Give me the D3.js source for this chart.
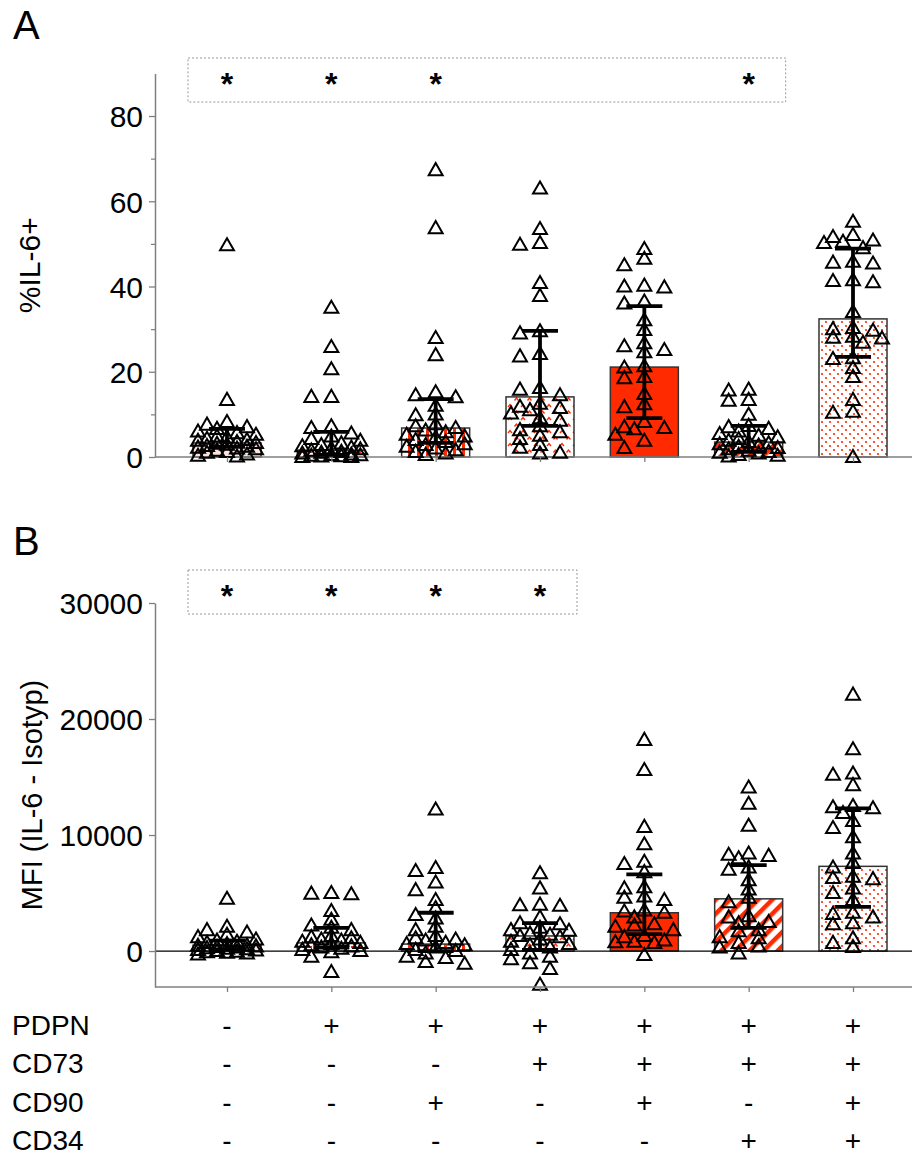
<!DOCTYPE html>
<html>
<head>
<meta charset="utf-8">
<script src="https://cdn.jsdelivr.net/npm/d3@7"></script>
<style>
  body { margin: 0; background: #fff; }
  svg { display: block; font-family: "Liberation Sans", Arial, sans-serif; }
</style>
</head>
<body>
<div id="chart"></div>
<script>
// groups + marker table
var groups = ["g1", "g2", "g3", "g4", "g5", "g6", "g7"];
var rowNames = ["PDPN", "CD73", "CD90", "CD34"];
var pdpn = ["-", "+", "+", "+", "+", "+", "+"];
var cd73 = ["-", "-", "-", "+", "+", "+", "+"];
var cd90 = ["-", "-", "+", "-", "+", "-", "+"];
var cd34 = ["-", "-", "-", "-", "-", "+", "+"];

// panel A: %IL-6+
var ticksA = [0, 20, 40, 60, 80];
var minorA = [10, 30, 50, 70];
var medA = [3.3, 1.6, 6.8, 14.1, 21.1, 3.5, 32.4];
var loA = [2.4, 0.5, 3.3, 7.3, 9.1, 1.2, 23.5];
var hiA = [6.6, 5.9, 13.6, 29.6, 35.4, 7.3, 48.9];
var sigA = ["*", "*", "*", "", "", "*", ""];
var ptsA = [
  [49.7, 13.4, 8.2, 7.6, 7.0, 6.6, 6.0, 5.6, 5.2, 4.8, 4.6, 4.3, 4.0, 3.8, 3.5, 3.3, 3.1, 2.9, 2.6, 2.4, 2.2, 2.0, 1.8, 1.5, 1.2, 1.0, 0.6, 0.3, 0.1],
  [35, 25.8, 20.6, 14.1, 14.1, 7.2, 6.8, 5.5, 4.8, 4.2, 3.8, 3.2, 2.8, 2.5, 2.2, 2.0, 1.8, 1.5, 1.2, 1.0, 0.8, 0.6, 0.4, 0.3, 0.2, 0.1, 0.0, 0.0, 0.5],
  [67.3, 53.7, 27.9, 23.9, 15.2, 14.5, 14.0, 12.0, 10.0, 9.8, 7.7, 7.2, 6.8, 6.2, 5.8, 5.2, 4.8, 4.5, 4.0, 3.5, 3.0, 2.8, 2.4, 2.0, 1.6, 1.2, 0.8, 0.5],
  [63, 53.5, 50.2, 49.8, 40.8, 37.8, 29.5, 29.0, 24.2, 23.6, 16.2, 15.8, 14.5, 12.5, 11.8, 11.5, 11.0, 10.2, 9.1, 8.5, 7.2, 6.3, 5.8, 5.0, 4.2, 2.8, 2.2, 1.0, 0.8],
  [48.8, 46.5, 45.0, 40.2, 40.0, 39.8, 36.5, 36.0, 32.1, 29.8, 26.7, 26.0, 25.1, 24.6, 21.3, 21.0, 18.8, 18.5, 14.8, 12.4, 11.7, 8.2, 7.0, 6.8, 6.5, 5.2, 3.8, 2.1],
  [15.8, 15.6, 13.4, 13.2, 9.9, 7.3, 7.0, 6.6, 6.0, 5.4, 5.0, 4.6, 4.2, 3.8, 3.5, 3.2, 3.0, 2.7, 2.4, 2.1, 1.8, 1.5, 1.2, 1.0, 0.8, 0.5, 0.3, 0.1],
  [55.2, 52.1, 51.6, 50.8, 50.5, 50.2, 49.0, 45.8, 45.6, 45.4, 41.5, 41.3, 41.0, 34.0, 30.3, 30.0, 29.6, 28.2, 28.0, 27.8, 26.8, 23.2, 23.0, 20.9, 18.8, 13.4, 10.6, 10.4, 0.0]
];

// panel B: MFI
var ticksB = [0, 10000, 20000, 30000];
var medB = [500, 700, 600, 1300, 3300, 4500, 7300];
var loB = [150, 300, 0, 100, 1450, 2000, 3800];
var hiB = [900, 2000, 3300, 2400, 6600, 7400, 12300];
var sigB = ["*", "*", "*", "*", "", "", ""];
var ptsB = [
  [4500, 2100, 1800, 1600, 1400, 1200, 1000, 900, 800, 700, 600, 500, 450, 400, 350, 300, 250, 200, 150, 100, 50, 0, -50, -100, -150, -200, -300],
  [5000, 4950, 4900, 3450, 2700, 2200, 2000, 1800, 1300, 1200, 1100, 1000, 900, 800, 700, 600, 500, 400, 300, 200, 100, 0, -100, -500, -1800],
  [12200, 7150, 6900, 5900, 5250, 4400, 3700, 3100, 2800, 2100, 1800, 1300, 1100, 1000, 900, 700, 600, 500, 300, 100, 0, -200, -500, -600, -950, -1100],
  [6700, 5400, 4000, 3950, 3900, 2900, 2400, 2300, 2000, 1800, 1750, 1500, 1400, 1300, 1200, 1000, 800, 600, 500, 300, 100, -200, -500, -700, -1050, -1550, -2900],
  [18200, 15600, 10700, 9200, 7700, 7500, 6800, 5500, 5400, 4700, 4600, 4400, 3500, 3400, 3300, 2900, 2300, 2200, 2100, 1800, 1300, 1200, 900, 800, 750, 700, -350],
  [14100, 12700, 10800, 8400, 8300, 8200, 8000, 7200, 7000, 6100, 5300, 4600, 4200, 3000, 2900, 2500, 2400, 1800, 1700, 1200, 1100, 700, 400, 300, -200],
  [22100, 17400, 15300, 15200, 14300, 12500, 12400, 12300, 11900, 11200, 10600, 9800, 8400, 7600, 7200, 6400, 6300, 6200, 5400, 5000, 4400, 3300, 3200, 2900, 2400, 2300, 1100, 700, 350]
];

var fills = ["url(#p1)", "url(#p2)", "url(#p3)", "url(#p4)", "url(#p5)", "url(#p6)", "url(#p7)"];

var width = 914, height = 1155;
var red = "#ff2a00", axisGrey = "#7f7f7f";
var leftX = 155, rightX = 912, barW = 68;

var svg = d3.select("#chart").append("svg")
    .attr("width", width)
    .attr("height", height);

// fill patterns
var defs = svg.append("defs");
defs.append("pattern").attr("id", "p1").attr("patternUnits", "userSpaceOnUse")
    .attr("width", 6).attr("height", 6)
  .append("rect").attr("width", 6).attr("height", 6).attr("fill", "#fde2dd");

var p2 = defs.append("pattern").attr("id", "p2").attr("patternUnits", "userSpaceOnUse")
    .attr("width", 7).attr("height", 5);
p2.append("rect").attr("width", 7).attr("height", 5).attr("fill", "#fff");
p2.append("rect").attr("x", 1).attr("y", 1).attr("width", 3).attr("height", 2).attr("fill", red);

var p3 = defs.append("pattern").attr("id", "p3").attr("patternUnits", "userSpaceOnUse")
    .attr("width", 9).attr("height", 9);
p3.append("rect").attr("width", 9).attr("height", 9).attr("fill", "#fff");
p3.append("rect").attr("x", 3).attr("width", 3).attr("height", 9).attr("fill", red);

var p4 = defs.append("pattern").attr("id", "p4").attr("patternUnits", "userSpaceOnUse")
    .attr("width", 13).attr("height", 13);
p4.append("rect").attr("width", 13).attr("height", 13).attr("fill", "#fff");
p4.append("path").attr("d", "M1,4 L3,1.5 L5,4").attr("fill", "none").attr("stroke", red).attr("stroke-width", 1.4);
p4.append("path").attr("d", "M7.5,10.5 L9.5,8 L11.5,10.5").attr("fill", "none").attr("stroke", red).attr("stroke-width", 1.4);

defs.append("pattern").attr("id", "p5").attr("patternUnits", "userSpaceOnUse")
    .attr("width", 6).attr("height", 6)
  .append("rect").attr("width", 6).attr("height", 6).attr("fill", red);

var p6 = defs.append("pattern").attr("id", "p6").attr("patternUnits", "userSpaceOnUse")
    .attr("width", 10).attr("height", 10).attr("patternTransform", "rotate(45)");
p6.append("rect").attr("width", 10).attr("height", 10).attr("fill", "#fff");
p6.append("rect").attr("width", 4.5).attr("height", 10).attr("fill", red);

var p7 = defs.append("pattern").attr("id", "p7").attr("patternUnits", "userSpaceOnUse")
    .attr("width", 8).attr("height", 8);
p7.append("rect").attr("width", 8).attr("height", 8).attr("fill", "#fff");
p7.append("circle").attr("cx", 2).attr("cy", 2).attr("r", 1.1).attr("fill", red);
p7.append("circle").attr("cx", 6).attr("cy", 6).attr("r", 1.1).attr("fill", red);

var x = d3.scalePoint().domain(groups).range([227, 853]);
var yA = d3.scaleLinear().domain([0, 90]).range([457, 73.4]);
var yB = d3.scaleLinear().domain([-3100, 30000]).range([987, 603]);

var tri = d3.symbol().type(d3.symbolTriangle).size(84);

// simple swarm: fixed column offsets, take the first free slot
function swarm(vals, y) {
  var offs = [0, -10, 10, -20, 20, -29, 29];
  var placed = [];
  vals.slice().sort(function(a, b) { return b - a; }).forEach(function(v) {
    var py = y(v), best = 0, bestCost = Infinity;
    for (var k = 0; k < offs.length; k++) {
      var cost = 0;
      placed.forEach(function(p) {
        var dx = Math.abs(p.dx - offs[k]), dy = Math.abs(p.y - py);
        if (dx < 11 && dy < 8) cost += (11 - dx) * (8 - dy);
      });
      if (cost === 0) { best = offs[k]; bestCost = 0; break; }
      if (cost < bestCost) { bestCost = cost; best = offs[k]; }
    }
    placed.push({dx: best, y: py, v: v});
  });
  return placed;
}

function panel(y, med, lo, hi, pts, sig, zeroLine, bottomY, boxTop) {
  var g = svg.append("g");

  // bars
  g.selectAll("rect.bar").data(groups).enter().append("rect")
      .attr("class", "bar")
      .attr("x", function(d) { return x(d) - barW / 2; })
      .attr("y", function(d, i) { return y(med[i]); })
      .attr("width", barW)
      .attr("height", function(d, i) { return y(0) - y(med[i]); })
      .attr("fill", function(d, i) { return fills[i]; })
      .attr("stroke", "#333")
      .attr("stroke-width", 1.5);

  // zero line / baseline
  g.append("line")
      .attr("x1", leftX).attr("x2", rightX)
      .attr("y1", y(0)).attr("y2", y(0))
      .attr("stroke", zeroLine ? "#000" : axisGrey)
      .attr("stroke-width", zeroLine ? 1.3 : 1.5);

  // points
  groups.forEach(function(gr, i) {
    g.append("g").selectAll("path").data(swarm(pts[i], y)).enter().append("path")
        .attr("d", tri)
        .attr("transform", function(p) { return "translate(" + (x(gr) + p.dx) + "," + (p.y + 1) + ")"; })
        .attr("fill", "none")
        .attr("stroke", "#000")
        .attr("stroke-width", 2);
  });

  // median + IQR
  var eb = g.selectAll("g.eb").data(groups).enter().append("g").attr("class", "eb")
      .attr("stroke", "#000").attr("stroke-width", 3.8);
  eb.append("line")
      .attr("x1", function(d) { return x(d); }).attr("x2", function(d) { return x(d); })
      .attr("y1", function(d, i) { return y(lo[i]); })
      .attr("y2", function(d, i) { return y(hi[i]); });
  eb.append("line")
      .attr("x1", function(d) { return x(d) - 18; }).attr("x2", function(d) { return x(d) + 18; })
      .attr("y1", function(d, i) { return y(lo[i]); })
      .attr("y2", function(d, i) { return y(lo[i]); });
  eb.append("line")
      .attr("x1", function(d) { return x(d) - 18; }).attr("x2", function(d) { return x(d) + 18; })
      .attr("y1", function(d, i) { return y(hi[i]); })
      .attr("y2", function(d, i) { return y(hi[i]); });

  // x ticks
  var xAxis = g.append("g")
      .attr("transform", "translate(0," + bottomY + ")")
      .call(d3.axisBottom(x).tickSize(5).tickFormat(""));
  xAxis.select(".domain").remove();
  xAxis.selectAll("line").attr("stroke", axisGrey).attr("stroke-width", 1.3);
  if (bottomY !== y(0)) {
    g.append("line")
        .attr("x1", leftX).attr("x2", rightX)
        .attr("y1", bottomY).attr("y2", bottomY)
        .attr("stroke", axisGrey).attr("stroke-width", 1.5);
  }

  // significance box
  var starred = [];
  sig.forEach(function(s, i) { if (s) starred.push(i); });
  var bx0 = x(groups[0]) - 39, bx1 = x(groups[starred[starred.length - 1]]) + 37;
  g.append("rect")
      .attr("x", bx0).attr("y", boxTop)
      .attr("width", bx1 - bx0).attr("height", 44)
      .attr("fill", "none")
      .attr("stroke", "#999")
      .attr("stroke-width", 1)
      .attr("stroke-dasharray", "2,2");
  g.selectAll("text.sig").data(groups).enter().append("text")
      .attr("class", "sig")
      .attr("x", function(d) { return x(d); })
      .attr("y", boxTop + 37)
      .attr("text-anchor", "middle")
      .attr("font-size", 32)
      .attr("font-weight", "bold")
      .text(function(d, i) { return sig[i]; });

  return g;
}

function styleAxis(a) {
  a.select(".domain").attr("stroke", axisGrey).attr("stroke-width", 1.5);
  a.selectAll(".tick line").attr("stroke", axisGrey).attr("stroke-width", 1.3);
  a.selectAll(".tick text").attr("font-size", 30).attr("fill", "#000")
      .attr("font-family", "Liberation Sans, Arial, sans-serif");
}

// panel A
panel(yA, medA, loA, hiA, ptsA, sigA, false, yA(0), 58);
var axA = svg.append("g").attr("transform", "translate(" + leftX + ",0)")
    .call(d3.axisLeft(yA).tickValues(ticksA).tickSize(6).tickSizeOuter(0).tickPadding(6));
styleAxis(axA);
axA.selectAll(".tick text").attr("dy", "0.36em");
var mnA = svg.append("g").attr("transform", "translate(" + leftX + ",0)")
    .call(d3.axisLeft(yA).tickValues(minorA).tickSize(4).tickFormat(""));
mnA.select(".domain").remove();
mnA.selectAll("line").attr("stroke", axisGrey).attr("stroke-width", 1.2);

// panel B
panel(yB, medB, loB, hiB, ptsB, sigB, true, 987, 570);
var axB = svg.append("g").attr("transform", "translate(" + leftX + ",0)")
    .call(d3.axisLeft(yB).tickValues(ticksB).tickSize(6).tickSizeOuter(0).tickPadding(6)
      .tickFormat(d3.format("d")));
styleAxis(axB);
axB.selectAll(".tick text").attr("dy", "0.36em");

// panel letters
svg.append("text").attr("x", 13).attr("y", 39).attr("font-size", 40).text("A");
svg.append("text").attr("x", 13).attr("y", 555).attr("font-size", 40).text("B");

// y titles
svg.append("text")
    .attr("transform", "translate(40," + ((yA(0) + yA(90)) / 2) + ") rotate(-90)")
    .attr("text-anchor", "middle")
    .attr("font-size", 30)
    .text("%IL-6+");
svg.append("text")
    .attr("transform", "translate(42," + ((yB(-3100) + yB(30000)) / 2) + ") rotate(-90)")
    .attr("text-anchor", "middle")
    .attr("font-size", 29)
    .text("MFI (IL-6 - Isotyp)");

// marker table
var rows = [pdpn, cd73, cd90, cd34];
rows.forEach(function(r, j) {
  var by = 1035 + j * 38.3;
  svg.append("text").attr("x", 12).attr("y", by).attr("font-size", 28).text(rowNames[j]);
  svg.selectAll(null).data(groups).enter().append("text")
      .attr("x", function(d) { return x(d); })
      .attr("y", by)
      .attr("text-anchor", "middle")
      .attr("font-size", 28)
      .text(function(d, i) { return r[i]; });
});
</script>
</body>
</html>
